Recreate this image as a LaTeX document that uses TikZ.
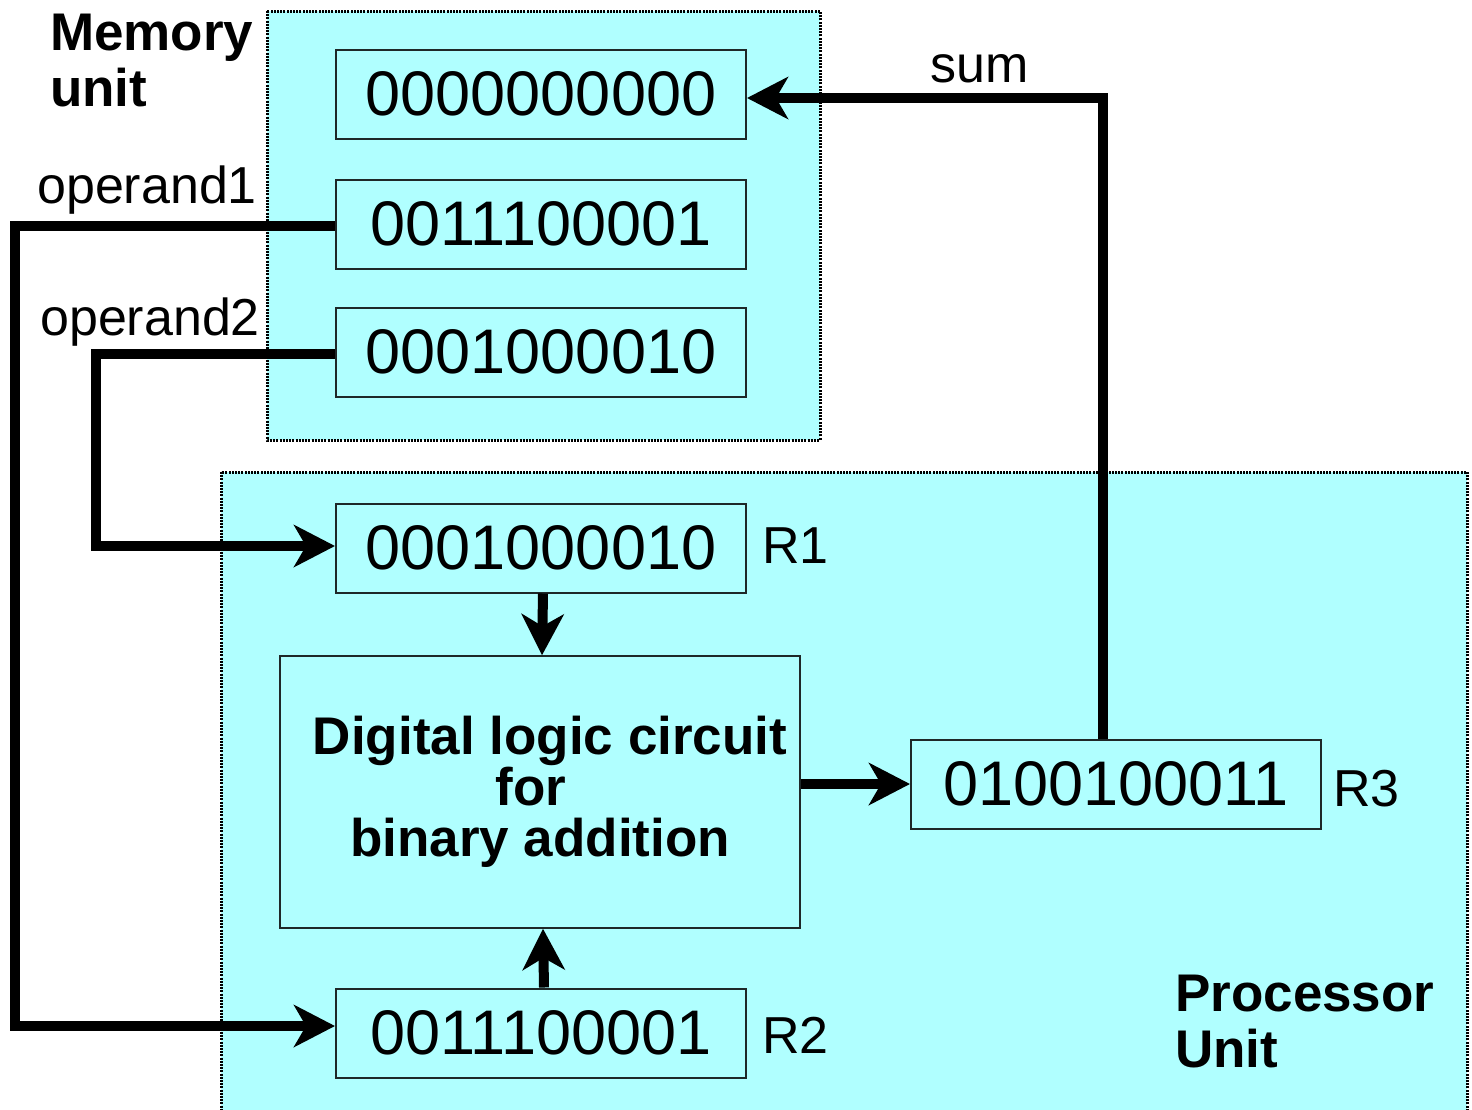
\documentclass[tikz,border=0pt]{standalone}
\usepackage{fontspec}
\setmainfont{Liberation Sans}
\usetikzlibrary{arrows.meta}
\definecolor{unitfill}{RGB}{176,255,255}
\definecolor{regline}{RGB}{30,40,40}
\tikzset{
  unitbox/.style={fill=unitfill, draw=black, line width=3pt, dash pattern=on 2pt off 1.2pt},
  register/.style={draw=regline, line width=2pt, fill=unitfill, minimum width=410pt, minimum height=89pt, inner sep=0pt, font=\fontsize{63}{63}\selectfont},
  circuit/.style={draw=regline, line width=1.5pt, fill=unitfill, minimum width=520pt, minimum height=272pt, inner sep=0pt, align=center, font=\fontsize{53}{51}\selectfont\bfseries},
  label/.style={inner sep=0pt, font=\fontsize{52}{52}\selectfont},
  title/.style={inner sep=0pt, align=left, font=\fontsize{53}{56}\selectfont\bfseries},
  wire/.style={line width=10pt, line join=miter, -{Stealth[length=41pt, width=42pt, inset=12pt]}},
}
\begin{document}
\begin{tikzpicture}[x=1pt, y=-1pt]
\useasboundingbox (0,0) rectangle (1472,1109);

% the two units
\draw[unitbox] (267,11) rectangle (820,440);
\draw[unitbox] (221,472) rectangle (1467,1130);

\node[title, anchor=north west] (memtitle) at (50,14) {Memory\\unit};
\node[title, anchor=north west] (proctitle) at (1175,975) {Processor\\Unit};

% memory words
\node[register] (M0) at (541,94) {0000000000};
\node[register] (M1) at (541,224) {0011100001};
\node[register] (M2) at (541,352) {0001000010};

% processor registers and adder
\node[register] (R1) at (541,548) {0001000010};
\node[register] (R2) at (541,1033) {0011100001};
\node[register] (R3) at (1116,784) {0100100011};
\node[circuit] (adder) at (540,792) {\hspace*{20pt}Digital logic circuit\\\hspace*{-18pt}for\\binary addition};

\node[label, anchor=base west] (r1lab) at (762,563) {R1};
\node[label, anchor=base west] (r2lab) at (762,1053) {R2};
\node[label, anchor=base west] (r3lab) at (1333,806) {R3};
\node[label, anchor=base west] (op1lab) at (37,203) {operand1};
\node[label, anchor=base west] (op2lab) at (40,335) {operand2};
\node[label, anchor=base west] (sumlab) at (930,82) {sum};

% turning points of the buses
\coordinate (op1turn) at (15,0);
\coordinate (op2turn) at (96,0);
\coordinate (sumturn) at (1103,0);

% data paths (yshift acts on the page: positive is upwards)
\draw[wire] ([yshift=-2pt]M1.west) -- ([yshift=-2pt]M1.west -| op1turn) |- ([yshift=7pt]R2.west);
\draw[wire] ([yshift=-2pt]M2.west) -- ([yshift=-2pt]M2.west -| op2turn) |- ([yshift=2pt]R1.west);
\draw[wire] ([xshift=2pt]R1.south) -- ([xshift=2pt]adder.north);
\draw[wire] ([xshift=3pt]R2.north) -- ([xshift=3pt]adder.south);
\draw[wire] (adder.east |- R3.west) -- (R3.west);
\draw[wire] (R3.north -| sumturn) |- ([yshift=-4pt]M0.east);
\end{tikzpicture}
\end{document}
